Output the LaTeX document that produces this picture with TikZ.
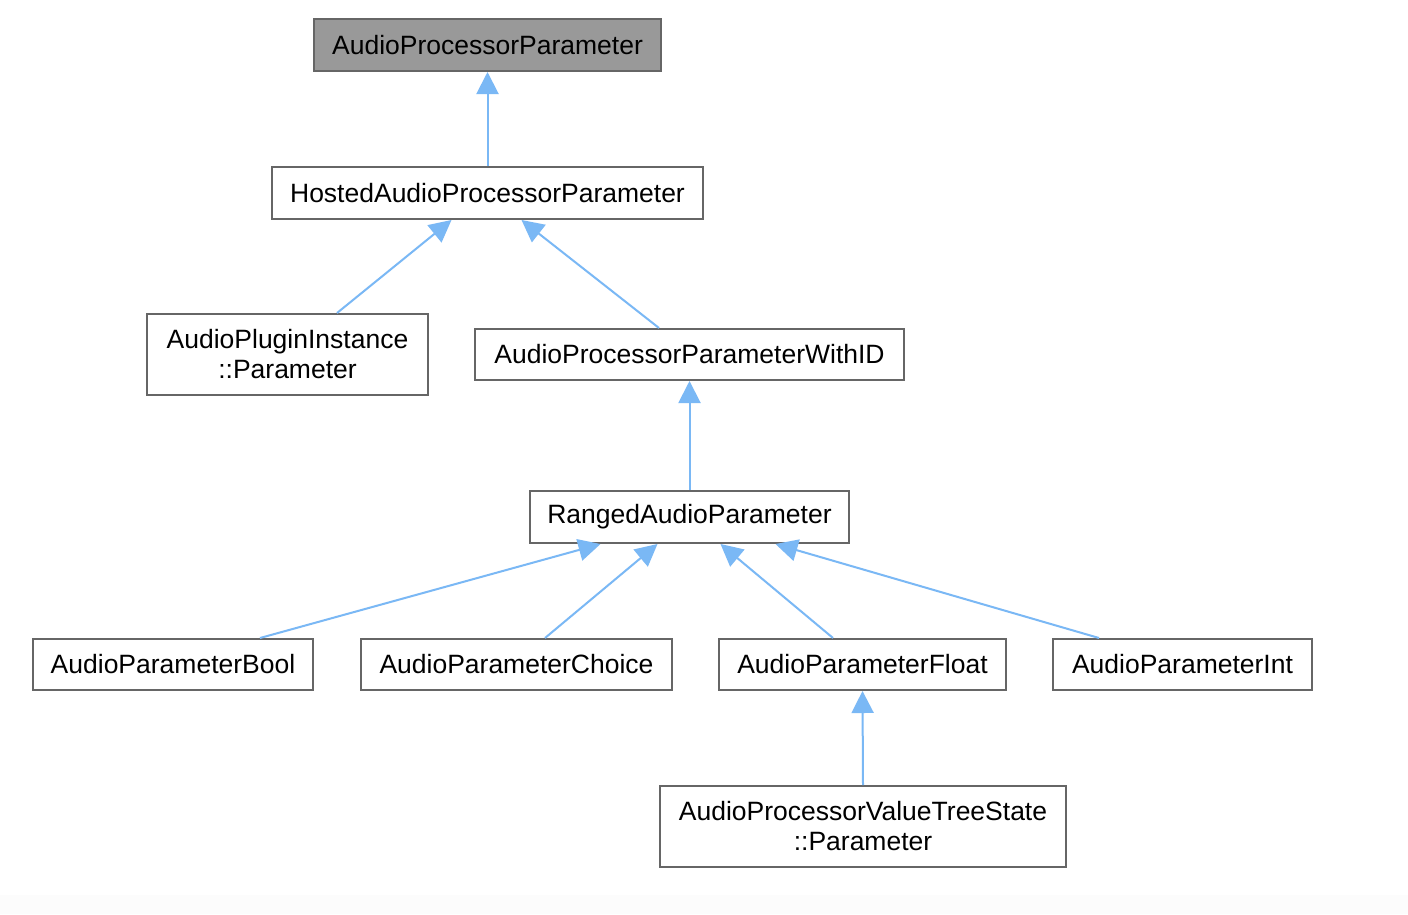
\documentclass[tikz,border=0pt]{standalone}
\usepackage{fontspec}
\setmainfont{Liberation Sans}
\usetikzlibrary{arrows.meta,calc}
\definecolor{edgeblue}{HTML}{7AB8F5}
\definecolor{boxline}{HTML}{666666}
\definecolor{rootfill}{HTML}{999999}
\begin{document}
\begin{tikzpicture}[x=1pt,y=-1pt,
  cls/.style={draw=boxline,line width=2pt,fill=white,inner sep=0pt,
    font=\fontsize{26.5}{30}\selectfont,align=center},
  edge/.style={draw=edgeblue,line width=2pt,-{Triangle[length=22pt,width=22pt]}}]
\fill[white] (0,0) rectangle (1408,914);
\fill[white!98.8!black] (0,895) rectangle (1408,914);
\useasboundingbox (0,0) rectangle (1408,914);
% nodes: centre, width, height
\node[cls,fill=rootfill,minimum width=347pt,minimum height=52pt] (app) at (487.5,45) {AudioProcessorParameter};
\node[cls,minimum width=431pt,minimum height=52pt] (hosted) at (487.5,193) {HostedAudioProcessorParameter};
\node[cls,minimum width=281pt,minimum height=81pt] (plugin) at (287.5,354.5) {AudioPluginInstance\\::Parameter};
\node[cls,minimum width=429pt,minimum height=51pt] (withid) at (689.5,354.5) {AudioProcessorParameterWithID};
\node[cls,minimum width=319pt,minimum height=52pt] (ranged) at (689.5,517) {RangedAudioParameter};
\node[cls,minimum width=280pt,minimum height=51pt] (bool) at (173,664.5) {AudioParameterBool};
\node[cls,minimum width=311pt,minimum height=51pt] (choice) at (516.5,664.5) {AudioParameterChoice};
\node[cls,minimum width=287pt,minimum height=51pt] (float) at (862.5,664.5) {AudioParameterFloat};
\node[cls,minimum width=259pt,minimum height=51pt] (int) at (1182.5,664.5) {AudioParameterInt};
\node[cls,minimum width=406pt,minimum height=81pt] (vts) at (863,826.5) {AudioProcessorValueTreeState\\::Parameter};
% edges (arrow at base class)
\draw[edge] (hosted.north) -- (app.south);
\draw[edge] ($(plugin.north)+(49.5,0)$) -- ($(hosted.south)+(-36,0)$);
\draw[edge] ($(withid.north)+(-30.5,0)$) -- ($(hosted.south)+(34,0)$);
\draw[edge] (ranged.north) -- (withid.south);
\draw[edge] ($(bool.north)+(87,0)$) -- ($(ranged.south)+(-89,0)$);
\draw[edge] ($(choice.north)+(28.5,0)$) -- ($(ranged.south)+(-32,0)$);
\draw[edge] ($(float.north)+(-29.5,0)$) -- ($(ranged.south)+(31,0)$);
\draw[edge] ($(int.north)+(-83.5,0)$) -- ($(ranged.south)+(86,0)$);
\draw[edge] (vts.north) -- (float.south);
\end{tikzpicture}
\end{document}
